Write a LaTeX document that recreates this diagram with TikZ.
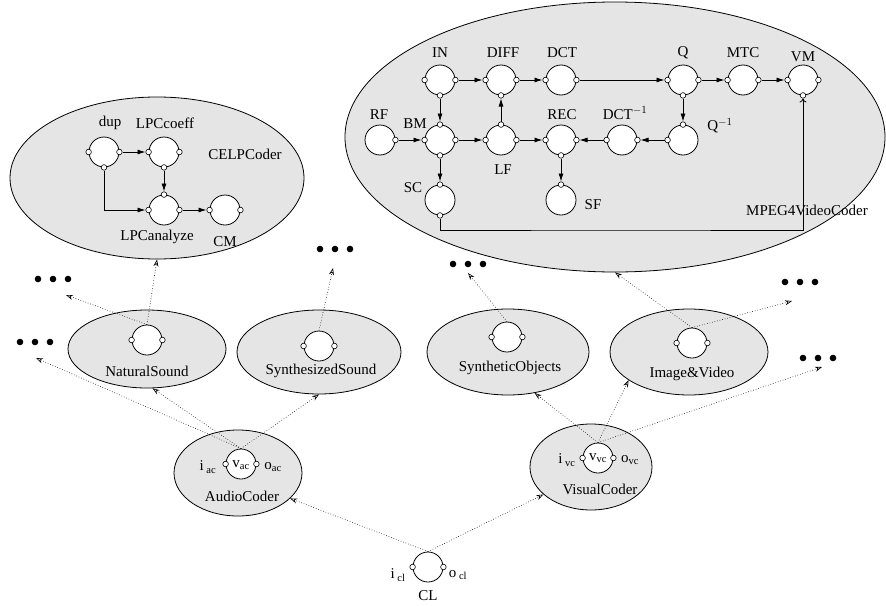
\documentclass[tikz,border=0pt]{standalone}
\usepackage{fontspec}
\setmainfont{Liberation Serif}
\usetikzlibrary{arrows.meta,shapes.geometric,calc}
\definecolor{shade}{RGB}{229,229,229}
\tikzset{
  lbl/.style={font=\fontsize{15}{18}\selectfont, inner sep=0pt},
  comp/.style={circle, draw, fill=white, line width=0.8pt, minimum size=30pt, inner sep=0pt},
  port/.style={circle, draw, fill=white, line width=0.6pt, minimum size=5.6pt, inner sep=0pt},
  region/.style={ellipse, draw, fill=shade, line width=0.8pt, inner sep=0pt},
  flow/.style={line width=0.8pt, -{Latex[length=8pt,width=5pt]}},
  feedback/.style={line width=0.8pt, -{To[length=4pt,width=7pt]}},
  link/.style={line width=0.6pt, dotted, -{Stealth[open,length=7pt,width=5pt]}},
  bigdot/.style={circle, fill=black, minimum size=6.6pt, inner sep=0pt}
}
% small interface circles on a component: name, list of tag/anchor
\newcommand\addports[2]{\foreach \p/\a in {#2}{\node[port] (#1-\p) at (#1.\a) {};}}
% three dots, left dot at the given point
\newcommand\ellipsisdots[1]{\foreach \k in {0,15,30}{\node[bigdot] at ($(#1)+(\k,0)$) {};}}

\begin{document}
\begin{tikzpicture}[x=1pt,y=-1pt]
\useasboundingbox (0,0) rectangle (886,605);

% ---------- regions ----------
\node[region, minimum width=294pt, minimum height=162pt] (celp) at (157,178) {};
\node[region, minimum width=540pt, minimum height=270pt] (mpeg) at (615,137) {};
\node[region, minimum width=158pt, minimum height=78pt] (ns) at (147,349) {};
\node[region, minimum width=164pt, minimum height=84pt] (ss) at (319,352) {};
\node[region, minimum width=162pt, minimum height=86pt] (so) at (508,352) {};
\node[region, minimum width=158pt, minimum height=86pt] (iv) at (689,352) {};
\node[region, minimum width=128pt, minimum height=86pt] (ac) at (238,473) {};
\node[region, minimum width=122pt, minimum height=86pt] (vc) at (591,467) {};

\node[lbl] at (245,154) {CELPCoder};
\node[lbl] at (807,210) {MPEG4VideoCoder};
\node[lbl] at (147,371) {NaturalSound};
\node[lbl] at (321,371) {SynthesizedSound};
\node[lbl] at (510,368) {SyntheticObjects};
\node[lbl] at (692,374) {Image\&Video};
\node[lbl] at (242,496) {AudioCoder};
\node[lbl] at (600,489) {VisualCoder};

% ---------- ellipsis markers ----------
\ellipsisdots{320,249}
\ellipsisdots{453,264}
\ellipsisdots{38,279}
\ellipsisdots{20,342}
\ellipsisdots{785,282}
\ellipsisdots{803,358}
\coordinate (e1) at (333,268);
\coordinate (e2) at (468,273);
\coordinate (e3) at (66,295);
\coordinate (e4) at (36,358);
\coordinate (e5) at (792,301);
\coordinate (e6) at (822,367);

% ---------- hierarchy components ----------
\node[comp] (nsc) at (147,340) {};
\node[comp] (ssc) at (319,346) {};
\node[comp] (soc) at (507,337) {};
\node[comp] (ivc) at (692,343) {};
\node[comp] (acc) at (241,464) {};
\node[comp] (vcc) at (598,458) {};
\node[comp] (clc) at (428,567) {};
\foreach \n in {nsc,ssc,soc,ivc,acc,vcc,clc}{\addports{\n}{l/west,r/east}}

\node[lbl] at (241,465) {v\textsubscript{ac}};
\node[lbl] at (208,467) {i\textsubscript{ ac}};
\node[lbl] at (273,467) {o\textsubscript{ac}};
\node[lbl] at (598,458) {v\textsubscript{vc}};
\node[lbl] at (567,460) {i\textsubscript{ vc}};
\node[lbl] at (630,460) {o\textsubscript{vc}};
\node[lbl] at (398,575) {i\textsubscript{ cl}};
\node[lbl] at (458,575) {o\textsubscript{ cl}};
\node[lbl] at (428,596) {CL};

% ---------- containment links ----------
\draw[link] (clc.north) -- (ac.334);
\draw[link] (clc.north) -- (vc.210);
\draw[link] (acc.north) -- (ns.278);
\draw[link] (acc.north) -- (ss.south);
\draw[link] (acc.north) -- (e4);
\draw[link] (nsc.north) -- (celp.south);
\draw[link] (nsc.north) -- (e3);
\draw[link] (ssc.north) -- (e1);
\draw[link] (vcc.north) -- (so.303);
\draw[link] (vcc.north) -- (iv.205);
\draw[link] (vcc.north) -- (e6);
\draw[link] (soc.north) -- (e2);
\draw[link] (ivc.north) -- (mpeg.south);
\draw[link] (ivc.north) -- (e5);

% ---------- CELP coder ----------
\node[comp] (dup)  at (104,152) {};
\node[comp] (lpcc) at (164,152) {};
\node[comp] (lpca) at (164,210) {};
\node[comp] (cm)   at (225,210) {};
\addports{dup}{l/west,r/east,b/south}
\addports{lpcc}{l/west,r/east,b/south}
\addports{lpca}{l/west,r/east,t/north}
\addports{cm}{l/west,r/east}
\node[lbl] at (110,123) {dup};
\node[lbl] at (165,123) {LPCcoeff};
\node[lbl] at (157,237) {LPCanalyze};
\node[lbl] at (225,242) {CM};

\draw[flow] (dup-r) -- (lpcc-l);
\draw[flow] (lpcc-b) -- (lpca-t);
\draw[flow] (dup-b) |- (lpca-l);
\draw[flow] (lpca-r) -- (cm-l);

% ---------- MPEG-4 video coder ----------
\node[comp] (in)   at (440,80) {};
\node[comp] (diff) at (501,80) {};
\node[comp] (dct)  at (561,80) {};
\node[comp] (q)    at (683,80) {};
\node[comp] (mtc)  at (743,80) {};
\node[comp] (vm)   at (803,80) {};
\node[comp] (rf)   at (380,140) {};
\node[comp] (bm)   at (440,140) {};
\node[comp] (lf)   at (501,140) {};
\node[comp] (rec)  at (561,140) {};
\node[comp] (dcti) at (622,140) {};
\node[comp] (qi)   at (683,140) {};
\node[comp] (sc)   at (440,200) {};
\node[comp] (sf)   at (561,200) {};

\addports{in}{l/west,r/east,b/south}
\addports{diff}{l/west,r/east,b/south}
\addports{dct}{l/west,r/east}
\addports{q}{l/west,r/east,b/south}
\addports{mtc}{l/west,r/east}
\addports{vm}{l/west,r/east,b/south}
\addports{rf}{r/east}
\addports{bm}{l/west,r/east,t/north,b/south}
\addports{lf}{l/west,r/east,t/north}
\addports{rec}{l/west,r/east,b/south}
\addports{dcti}{l/west,r/east}
\addports{qi}{l/west,t/north}
\addports{sc}{t/north,b/south}
\addports{sf}{t/north}

\node[lbl] at (440,53) {IN};
\node[lbl] at (503,53) {DIFF};
\node[lbl] at (562,53) {DCT};
\node[lbl] at (683,53) {Q};
\node[lbl] at (743,53) {MTC};
\node[lbl] at (803,57) {VM};
\node[lbl] at (379,115) {RF};
\node[lbl] at (415,124) {BM};
\node[lbl] at (562,115) {REC};
\node[lbl] at (625,113) {DCT$^{-1}$};
\node[lbl] at (503,170) {LF};
\node[lbl] at (720,126) {Q$^{-1}$};
\node[lbl] at (413,188) {SC};
\node[lbl] at (593,205) {SF};

\draw[flow] (in-r) -- (diff-l);
\draw[flow] (diff-r) -- (dct-l);
\draw[flow] (dct-r) -- (q-l);
\draw[flow] (q-r) -- (mtc-l);
\draw[flow] (mtc-r) -- (vm-l);
\draw[flow] (q-b) -- (qi-t);
\draw[flow] (qi-l) -- (dcti-r);
\draw[flow] (dcti-l) -- (rec-r);
\draw[flow] (in-b) -- (bm-t);
\draw[flow] (rf-r) -- (bm-l);
\draw[flow] (bm-r) -- (lf-l);
\draw[flow] (lf-t) -- (diff-b);
\draw[flow] (lf-r) -- (rec-l);
\draw[flow] (rec-b) -- (sf-t);
\draw[flow] (bm-b) -- (sc-t);
\coordinate (bus) at (620,230);
\draw[feedback] (sc-b) |- (bus) -| (vm-b);
\end{tikzpicture}
\end{document}
